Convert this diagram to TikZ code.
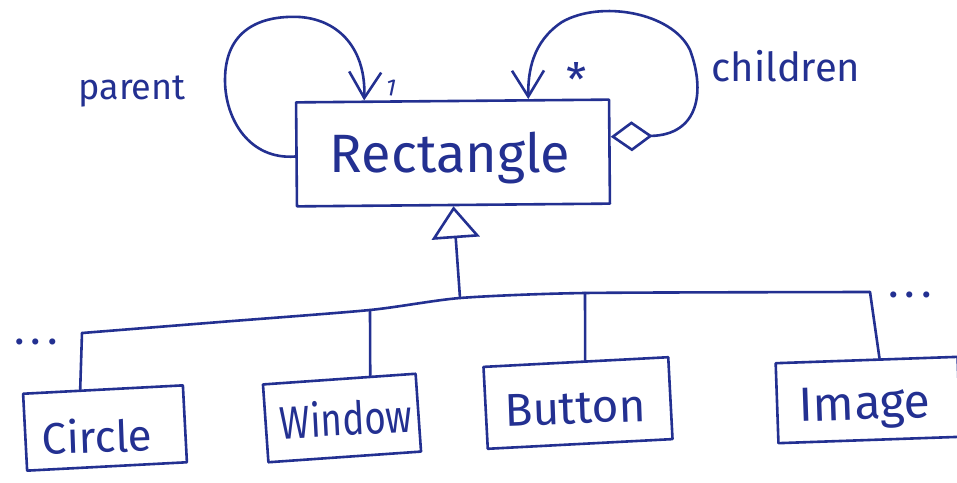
\documentclass[tikz,border=0pt]{standalone}
\usepackage{fontspec}
\setmainfont{Fira Sans}
\usetikzlibrary{arrows.meta,calc}
\definecolor{ink}{RGB}{35,48,145}
\begin{document}
\begin{tikzpicture}[x=1pt,y=-1pt,
  line width=2.6pt, draw=ink, text=ink, line cap=round, line join=round,
  cls/.style={draw=ink, inner sep=0pt},
  lbl/.style={text=ink, inner sep=0pt},
  nav/.style={-{Straight Barb[length=26pt,width=32pt,line width=2.6pt]}}]
\useasboundingbox (0,0) rectangle (957,482);
% classes
\node[cls, minimum width=313pt, minimum height=104pt, rotate=0.5] (rect) at (453,153) {};
\node[lbl, font=\fontsize{54}{54}\selectfont] (recttxt) at (450,158) {Rectangle};
\node[cls, minimum width=160pt, minimum height=77pt, rotate=3] (circ) at (105,428) {};
\node[lbl, font=\fontsize{44}{44}\selectfont, rotate=2] (circtxt) at (97,436) {Circle};
\node[cls, minimum width=153pt, minimum height=78pt, rotate=4] (win) at (342,418) {};
\node[lbl, font=\fontsize{46}{46}\selectfont, rotate=3] (wintxt) at (346,418) {\scalebox{0.8}[1]{Window}};
\node[cls, minimum width=185pt, minimum height=82pt, rotate=3] (but) at (578,403) {};
\node[lbl, font=\fontsize{46}{46}\selectfont, rotate=2] (buttxt) at (575,408) {Button};
\node[cls, minimum width=182pt, minimum height=80pt, rotate=2] (img) at (868,400) {};
\node[lbl, font=\fontsize{48}{48}\selectfont, rotate=2] (imgtxt) at (865,408) {Image};
% labels
\node[lbl, font=\fontsize{36}{36}\selectfont] (parent) at (132,92) {parent};
\node[lbl, font=\fontsize{40}{40}\selectfont] (children) at (786,66) {children};
\node[lbl, font=\fontsize{24}{24}\selectfont, rotate=-12] (one) at (391,88) {1};
\node[lbl, font=\fontsize{46}{46}\selectfont] (star) at (577,80) {*};
\node[lbl, font=\fontsize{44}{44}\selectfont, anchor=base] (dotsl) at (36,344) {.\hspace{6pt}.\hspace{6pt}.};
\node[lbl, font=\fontsize{44}{44}\selectfont, anchor=base] (dotsr) at (910,297) {.\hspace{6pt}.\hspace{6pt}.};
% anchor points
\coordinate (ptop) at ($(rect.north west)!0.22!(rect.north east)$);
\coordinate (ctop) at ($(rect.north west)!0.74!(rect.north east)$);
\coordinate (pleft) at ($(rect.north west)!0.52!(rect.south west)$);
\coordinate (cright) at ($(rect.north east)!0.36!(rect.south east)$);
\coordinate (rbot) at ($(rect.south west)!0.5!(rect.south east)$);
% self associations
\draw[nav] (pleft) .. controls (250,160) and (225,120) .. (225,80)
  .. controls (225,30) and (260,15) .. (300,17)
  .. controls (340,20) and (366,50) .. (ptop);
\draw[{Diamond[open,length=42pt,width=30pt,line width=2.6pt]}-{Straight Barb[length=26pt,width=32pt,line width=2.6pt]}]
  (cright) .. controls (700,135) and (705,90) .. (690,50)
  .. controls (672,12) and (600,0) .. (562,22)
  .. controls (532,42) and (528,72) .. (ctop);
% inheritance bus
\coordinate (b1) at (82,333);
\coordinate (b2) at (370,310);
\coordinate (bj) at (460,298);
\coordinate (b3) at (585,293);
\coordinate (b4) at (870,292);
\draw plot[smooth, tension=0.4] coordinates {(b1) (220,322) (b2) (bj) (b3) (b4)};
\draw[-{Triangle[open,length=32pt,width=48pt,line width=2.6pt]}] (bj) -- (rbot);
\draw (b1) -- ($(circ.north west)!0.36!(circ.north east)$);
\draw (b2) -- ($(win.north west)!0.70!(win.north east)$);
\draw (b3) -- ($(but.north west)!0.55!(but.north east)$);
\draw (b4) -- ($(img.north west)!0.57!(img.north east)$);
\end{tikzpicture}
\end{document}
